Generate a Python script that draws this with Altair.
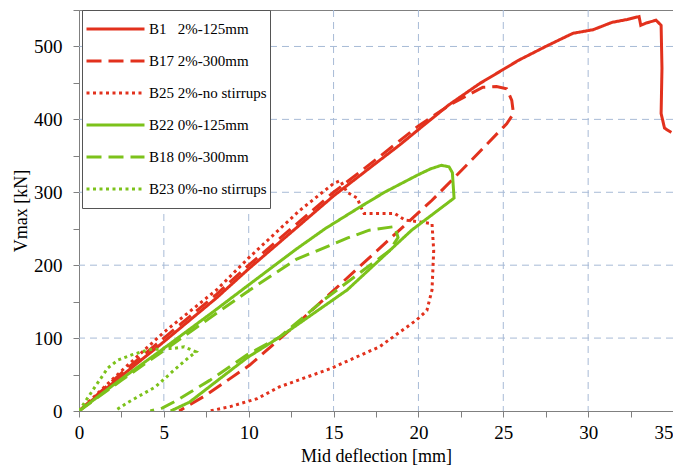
import altair as alt
import pandas as pd

NB = "\u00a0"
names = [
    "B1" + NB * 3 + "2%-125mm",
    "B17 2%-300mm",
    "B25 2%-no stirrups",
    "B22 0%-125mm",
    "B18 0%-300mm",
    "B23 0%-no stirrups",
]
colors = ["#E2311D", "#E2311D", "#E2311D", "#7CC21B", "#7CC21B", "#7CC21B"]
dashes = [[1, 0], [15, 7], [3, 3.5], [1, 0], [15, 7], [3, 3.5]]

b1_x = [0, 2.5, 5, 8.1, 10, 13, 15, 17.5, 18.9, 20, 21.8, 23.6, 25.9, 27.5, 29.1, 30.3, 31.4, 32.3, 33.0, 33.1, 33.4, 34.0, 34.3, 34.35, 34.3, 34.5, 34.9]
b1_y = [0, 48, 95, 155, 195, 255, 295, 340, 365, 386, 420, 449, 481, 500, 518, 523, 533, 537, 541, 529, 532, 536, 529, 470, 408, 388, 382]

b17_x = [0, 2.5, 5, 8.1, 10, 13, 15, 17.5, 20, 22, 23.8, 24.6, 25.2, 25.5, 25.6, 25.2, 23, 20.8, 17, 13.2, 10.06, 7.5, 5.9]
b17_y = [0, 52, 100, 160, 200, 260, 300, 345, 391, 422, 444, 445, 442, 426, 408, 394, 341, 289, 208, 127, 63, 22, 0]

b25_x = [0, 2.5, 5, 8.1, 10, 13, 15, 15.4, 15.8, 16.4, 16.6, 16.8, 18.6, 19.2, 20.8, 20.9, 20.8, 20.5, 19.9, 17.7, 14.8, 11.8, 10.5, 8.9, 7.7]
b25_y = [0, 55, 108, 166, 210, 275, 312, 316, 300, 292, 280, 271, 271, 262, 257, 220, 166, 138, 125, 88, 58, 33, 17, 6, 0]

b22_x = [0, 2.5, 5, 7.9, 10, 12.8, 14.5, 16.5, 18, 19.9, 20.7, 21.35, 21.8, 22.0, 22.1, 19.6, 15.8, 11.8, 9.9, 6.5, 5.4]
b22_y = [0, 44, 86, 136, 173, 222, 250, 279, 300, 323, 332, 337, 335, 327, 292, 248, 166, 101, 73, 12, 0]

b18_x = [0, 2.5, 5, 8.1, 10, 12.8, 15.8, 17.1, 18.6, 18.8, 18.3, 14.4, 13.8, 11.8, 9.9, 7.7, 6.5, 5.8, 4.9, 4.2]
b18_y = [0, 42, 83, 134, 165, 208, 237, 248, 253, 238, 220, 152, 140, 101, 77, 42, 25, 15, 4, 0]

b23_x = [0, 0.94, 1.7, 2.3, 3.1, 4.1, 5.6, 6.2, 6.9, 6.5, 5.6, 4.5, 2.9, 2.1]
b23_y = [0, 33, 59, 70, 77, 84, 86, 88, 81, 74, 56, 33, 12, 0]

x_grid = [5, 10, 15, 20, 25, 30]
y_grid = [100, 200, 300, 400, 500]
x_ticks = [0, 2.5, 5, 7.5, 10, 12.5, 15, 17.5, 20, 22.5, 25, 27.5, 30, 32.5, 35]
y_ticks = [0, 50, 100, 150, 200, 250, 300, 350, 400, 450, 500, 550]

series_xy = [(b1_x, b1_y), (b17_x, b17_y), (b25_x, b25_y),
             (b22_x, b22_y), (b18_x, b18_y), (b23_x, b23_y)]
rows = []
for name, (xs, ys) in zip(names, series_xy):
    for i, (xv, yv) in enumerate(zip(xs, ys)):
        rows.append({"series": name, "x": xv, "y": yv, "i": i})
df = pd.DataFrame(rows)

FONT = "Liberation Serif"
GRID = "#A7BAD6"
AX = "#808080"

xscale = alt.Scale(domain=[0, 35], nice=False, zero=False)
yscale = alt.Scale(domain=[0, 550], nice=False, zero=False)

xaxis = alt.Axis(values=x_ticks, labelExpr="datum.value % 5 == 0 ? datum.label : ''",
                 labelAlign={"expr": "datum.value == 35 ? 'right' : 'center'"},
                 grid=False, tickSize=6, tickColor=AX, domainColor=AX,
                 labelFont=FONT, labelFontSize=19, labelColor="black", labelPadding=6,
                 titleFont=FONT, titleFontSize=18, titleFontWeight="normal",
                 titleColor="black", titlePadding=5, labelFlush=False)
yaxis = alt.Axis(values=y_ticks, labelExpr="datum.value % 100 == 0 ? datum.label : ''",
                 grid=False, tickSize=6, tickColor=AX, domainColor=AX,
                 labelFont=FONT, labelFontSize=19, labelColor="black", labelPadding=11,
                 titleFont=FONT, titleFontSize=18, titleFontWeight="normal",
                 titleColor="black", titlePadding=3, labelFlush=False)

X = alt.X("x:Q", scale=xscale, axis=xaxis, title="Mid deflection [mm]")
Y = alt.Y("y:Q", scale=yscale, axis=yaxis, title="Vmax [kN]")

vgrid = alt.Chart(pd.DataFrame({"x": x_grid})).mark_rule(
    color=GRID, strokeDash=[7, 5], strokeWidth=1).encode(x=X)
hgrid = alt.Chart(pd.DataFrame({"y": y_grid})).mark_rule(
    color=GRID, strokeDash=[7, 5], strokeWidth=1).encode(y=Y)

legend = alt.Legend(orient="none", legendX=3, legendY=0, title=None,
                    symbolType="stroke", symbolSize=3364, symbolStrokeWidth=3,
                    labelFont=FONT, labelFontSize=15, labelColor="black",
                    fillColor="white", strokeColor="#555555", padding=3,
                    clipHeight=32, rowPadding=0, labelOffset=3, labelLimit=300)

color = alt.Color("series:N", scale=alt.Scale(domain=names, range=colors), legend=legend)
dash = alt.StrokeDash("series:N", scale=alt.Scale(domain=names, range=dashes), legend=legend)

base = alt.Chart(df).mark_line(strokeWidth=3, clip=True).encode(
    x=X, y=Y, color=color, strokeDash=dash, order="i:Q")

red = base.transform_filter(alt.FieldOneOfPredicate(field="series", oneOf=names[:3]))
green = base.transform_filter(alt.FieldOneOfPredicate(field="series", oneOf=names[3:]))

chart = alt.layer(vgrid, hgrid, red, green).properties(
    width=594, height=401,
    autosize=alt.AutoSizeParams(type="none"),
    padding={"left": 71, "top": 2, "right": 0, "bottom": 56},
).configure_view(stroke=AX, strokeWidth=1)

chart.save("out.html", embed_options={"renderer": "svg", "actions": False})
